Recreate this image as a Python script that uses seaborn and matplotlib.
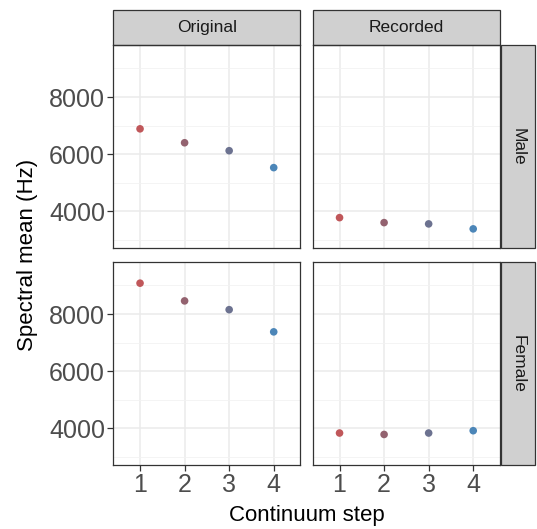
import matplotlib
matplotlib.use("Agg")
import matplotlib.pyplot as plt
from matplotlib.patches import Rectangle
from matplotlib.ticker import MultipleLocator
import seaborn as sns
import pandas as pd

steps = [1, 2, 3, 4]
male_original = [6887, 6400, 6122, 5530]
male_recorded = [3781, 3607, 3562, 3388]
female_original = [9079, 8459, 8152, 7376]
female_recorded = [3838, 3788, 3838, 3919]
step_colors = ["#C0575A", "#93626F", "#6C7290", "#4C86B8"]
col_labels = ["Original", "Recorded"]
row_labels = ["Male", "Female"]

rows = []
for sex, orig, rec in [("Male", male_original, male_recorded),
                       ("Female", female_original, female_recorded)]:
    for s, v in zip(steps, orig):
        rows.append(dict(step=s, mean=v, type="Original", sex=sex))
    for s, v in zip(steps, rec):
        rows.append(dict(step=s, mean=v, type="Recorded", sex=sex))
df = pd.DataFrame(rows)

sns.set_theme(style="white")
plt.rcParams["font.family"] = ["Liberation Sans", "DejaVu Sans"]

g = sns.relplot(data=df, x="step", y="mean", row="sex", col="type",
                hue="step", palette=step_colors, legend=False,
                row_order=row_labels, col_order=col_labels,
                s=30, linewidth=0, kind="scatter",
                facet_kws=dict(sharex=True, sharey=True))
fig = g.figure
fig.set_size_inches(5.37, 5.29)
fig.subplots_adjust(left=0.211, right=0.931, top=0.915, bottom=0.121,
                    wspace=0.066, hspace=0.069)

for i, r in enumerate(row_labels):
    for j, c in enumerate(col_labels):
        ax = g.axes[i, j]
        ax.set_title("")
        ax.set_xlabel("")
        ax.set_ylabel("")
        ax.set_xlim(0.4, 4.6)
        ax.set_ylim(2720, 9820)
        ax.set_xticks(steps)
        ax.yaxis.set_major_locator(MultipleLocator(2000))
        ax.yaxis.set_minor_locator(MultipleLocator(1000))
        ax.set_axisbelow(True)
        ax.grid(which="major", color="#EBEBEB", linewidth=1.1)
        ax.grid(which="minor", axis="y", color="#F2F2F2", linewidth=0.6)
        for sp in ax.spines.values():
            sp.set_visible(True)
            sp.set_color("#333333")
            sp.set_linewidth(0.9)
        ax.tick_params(axis="both", which="major", length=4, width=0.9,
                       color="#333333", labelcolor="#4D4D4D", labelsize=18,
                       pad=2, bottom=(i == 1), left=(j == 0),
                       labelbottom=(i == 1), labelleft=(j == 0))
        ax.tick_params(which="minor", length=0)
        if i == 0:
            ax.add_patch(Rectangle((0, 1.0), 1, 0.173, transform=ax.transAxes,
                                   facecolor="#D0D0D0", edgecolor="#333333",
                                   linewidth=0.9, clip_on=False))
            ax.text(0.5, 1.0865, c, transform=ax.transAxes, ha="center",
                    va="center", fontsize=12.5, color="#1A1A1A")
        if j == 1:
            ax.add_patch(Rectangle((1.005, 0), 0.181, 1, transform=ax.transAxes,
                                   facecolor="#D0D0D0", edgecolor="#333333",
                                   linewidth=0.9, clip_on=False))
            ax.text(1.0955, 0.5, r, transform=ax.transAxes, ha="center",
                    va="center", rotation=-90, fontsize=12.5, color="#1A1A1A")

fig.text(0.052, 0.518, "Spectral mean (Hz)", rotation=90, ha="center",
         va="center", fontsize=16, color="black")
fig.text(0.571, 0.025, "Continuum step", ha="center", va="center",
         fontsize=16, color="black")

fig.savefig("out.png", dpi=100)
